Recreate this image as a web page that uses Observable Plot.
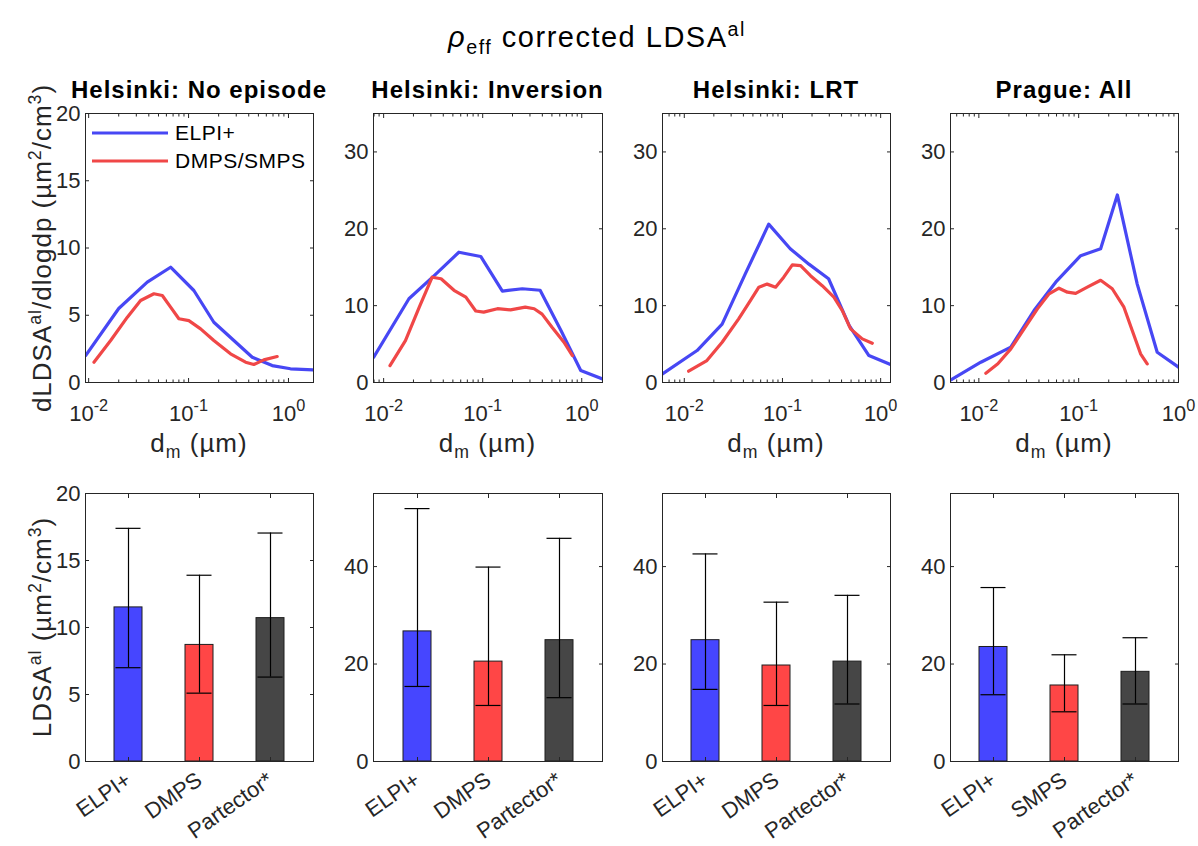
<!DOCTYPE html>
<html><head><meta charset="utf-8">
<script src="https://cdn.jsdelivr.net/npm/d3@7"></script>
<script src="https://cdn.jsdelivr.net/npm/@observablehq/plot@0.6"></script>
<style>
html,body{margin:0;padding:0;background:#fff;}
#wrap{position:relative;width:1198px;height:846px;overflow:hidden;background:#fff;font-family:"Liberation Sans",Arial,Helvetica,sans-serif;color:#000;}
.abs{position:absolute;white-space:nowrap;line-height:1;}
sup,sub{font-size:0.68em;line-height:0;position:relative;vertical-align:baseline;}
sup{top:-0.55em;} sub{top:0.35em;}
.ptitle{font-weight:bold;font-size:24px;letter-spacing:1px;transform:translateX(-50%);}
.xlab{font-size:26px;letter-spacing:1px;transform:translateX(-50%);color:#262626;}
.ylab{font-size:26px;letter-spacing:1px;transform:translate(-50%,-50%) rotate(-90deg);color:#262626;}
.main{font-size:29px;letter-spacing:1.5px;transform:translateX(-50%);}
.plot{overflow:visible;max-width:none !important;}
</style></head>
<body><div id="wrap"></div>
<script>
// ---------- data ----------
const panelTitles = ["Helsinki: No episode", "Helsinki: Inversion", "Helsinki: LRT", "Prague: All"];
const legendLabels = ["ELPI+", "DMPS/SMPS"];
const xTickVals = [0.01, 0.1, 1];
const xTickLabels = ["10^-2", "10^-1", "10^0"];
const topYTicks = [[0, 5, 10, 15, 20], [0, 10, 20, 30], [0, 10, 20, 30], [0, 10, 20, 30]];
const topYMax = [20, 35, 35, 35];
const xDomains = [[0.0093, 1.78], [0.0079, 1.62], [0.006, 1.26], [0.0052, 1.0]];

// ELPI+ (blue) size distributions: diameter (µm), dLDSA/dlogdp
const elpiX1 = [0.00933, 0.0200, 0.0386, 0.0661, 0.113, 0.179, 0.284, 0.434, 0.687, 1.047, 1.78];
const elpiY1 = [2.0, 5.5, 7.46, 8.57, 6.84, 4.48, 3.12, 1.88, 1.26, 1.02, 0.94];
const elpiX2 = [0.00794, 0.0180, 0.0324, 0.0575, 0.0955, 0.158, 0.251, 0.380, 0.617, 0.977, 1.62];
const elpiY2 = [3.3, 10.9, 13.9, 16.95, 16.4, 11.9, 12.2, 12.0, 6.76, 1.56, 0.47];
const elpiX3 = [0.00600, 0.0135, 0.0243, 0.0417, 0.0724, 0.120, 0.186, 0.295, 0.479, 0.759, 1.259];
const elpiY3 = [1.13, 4.16, 7.6, 14.1, 20.6, 17.4, 15.4, 13.5, 7.4, 3.5, 2.34];
const elpiX4 = [0.00525, 0.01047, 0.0209, 0.0357, 0.0589, 0.1047, 0.166, 0.244, 0.386, 0.612, 1.0];
const elpiY4 = [0.35, 2.64, 4.6, 9.36, 13.05, 16.5, 17.4, 24.4, 12.8, 3.94, 2.0];

// DMPS / SMPS (red)
const mobX1 = [0.0113, 0.0166, 0.0244, 0.0331, 0.0450, 0.0546, 0.0661, 0.080, 0.1007, 0.132, 0.179, 0.263, 0.372, 0.450, 0.566, 0.771];
const mobY1 = [1.51, 3.12, 4.86, 6.1, 6.6, 6.47, 5.6, 4.74, 4.6, 3.99, 3.12, 2.13, 1.51, 1.34, 1.68, 1.93];
const mobX2 = [0.01159, 0.0166, 0.0229, 0.0309, 0.0380, 0.0513, 0.0676, 0.0851, 0.1023, 0.141, 0.191, 0.269, 0.331, 0.398, 0.501, 0.661, 0.805];
const mobY2 = [2.2, 5.46, 9.8, 13.7, 13.5, 12.0, 11.1, 9.3, 9.15, 9.6, 9.45, 9.8, 9.6, 8.9, 7.2, 5.25, 3.5];
const mobX3 = [0.01107, 0.0170, 0.0243, 0.0358, 0.0471, 0.0575, 0.0698, 0.0851, 0.103, 0.126, 0.153, 0.193, 0.254, 0.334, 0.407, 0.494, 0.650, 0.822];
const mobY3 = [1.47, 2.86, 5.24, 8.28, 10.66, 12.4, 12.8, 12.4, 13.7, 15.3, 15.2, 13.9, 12.6, 11.1, 9.36, 6.98, 5.68, 5.11];
const mobX4 = [0.01175, 0.0155, 0.0209, 0.0284, 0.0386, 0.0505, 0.0635, 0.0771, 0.0933, 0.122, 0.166, 0.217, 0.284, 0.344, 0.417, 0.486];
const mobY4 = [1.21, 2.43, 4.37, 6.98, 9.58, 11.53, 12.27, 11.75, 11.6, 12.4, 13.3, 12.2, 9.8, 6.76, 3.73, 2.43];

// bottom: mean LDSA with error bars
const barCats = [["ELPI+", "DMPS", "Partector*"], ["ELPI+", "DMPS", "Partector*"], ["ELPI+", "DMPS", "Partector*"], ["ELPI+", "SMPS", "Partector*"]];
const barMean = [[11.5, 8.7, 10.7], [26.7, 20.5, 24.9], [24.9, 19.7, 20.5], [23.5, 15.6, 18.4]];
const barLo = [[7.0, 5.1, 6.3], [15.4, 11.5, 13.1], [14.8, 11.5, 11.8], [13.7, 10.2, 11.8]];
const barHi = [[17.4, 13.9, 17.05], [51.9, 39.9, 45.8], [42.6, 32.7, 34.1], [35.7, 21.9, 25.4]];
const bottomYTicks = [[0, 5, 10, 15, 20], [0, 20, 40], [0, 20, 40], [0, 20, 40]];
const bottomYMax = [20, 55, 55, 55];

// ---------- style / layout ----------
const blueLine = "#4747f4", redLine = "#f04747";
const barFill = ["#4646ff", "#ff4646", "#464646"];
const axisColor = "#262626";
const font = '"Liberation Sans", Arial, Helvetica, sans-serif';
const frameL = [85, 373, 662, 950], frameR = [313, 602, 890, 1178];
const topT = 113, topB = 382, botT = 493, botB = 761;

const elpiX = [elpiX1, elpiX2, elpiX3, elpiX4], elpiY = [elpiY1, elpiY2, elpiY3, elpiY4];
const mobX = [mobX1, mobX2, mobX3, mobX4], mobY = [mobY1, mobY2, mobY3, mobY4];

const wrap = document.getElementById("wrap");
function place(node, left, top) {
  const d = document.createElement("div");
  d.className = "abs"; d.style.left = left + "px"; d.style.top = top + "px";
  d.appendChild(node); wrap.appendChild(d);
}
function html(cls, left, top, inner) {
  const d = document.createElement("div");
  d.className = "abs " + cls; d.style.left = left + "px"; d.style.top = top + "px";
  d.innerHTML = inner; wrap.appendChild(d);
}
function supFix(svg) {
  const NS = "http://www.w3.org/2000/svg";
  svg.querySelectorAll("text").forEach(t => {
    const m = /^10\^(.+)$/.exec(t.textContent);
    if (!m) return;
    t.textContent = "";
    const a = document.createElementNS(NS, "tspan"); a.textContent = "10";
    const b = document.createElementNS(NS, "tspan");
    b.setAttribute("font-size", "0.74em"); b.setAttribute("dy", "-0.62em"); b.textContent = m[1];
    t.appendChild(a); t.appendChild(b);
  });
}
const baseStyle = {fontFamily: font, fontSize: "22px", color: axisColor, overflow: "visible", background: "transparent", maxWidth: "none"};

// ---------- top panels ----------
for (let i = 0; i < 4; i++) {
  const L = frameL[i], R = frameR[i];
  const mL = 45, mR = 20, mT = 10, mB = 55;
  const dom = xDomains[i];
  const major = xTickVals.filter(v => v >= dom[0] && v <= dom[1] * 1.0001);
  const minor = [];
  for (let e = -3; e <= 0; e++) for (let k = 2; k < 10; k++) {
    const v = k * Math.pow(10, e);
    if (v >= dom[0] && v <= dom[1]) minor.push(v);
  }
  const blue = elpiX[i].map((x, j) => ({x, y: elpiY[i][j]}));
  const red = mobX[i].map((x, j) => ({x, y: mobY[i][j]}));
  const yt = topYTicks[i];
  const svg = Plot.plot({
    width: R - L + mL + mR, height: (topB - topT) + mT + mB,
    marginLeft: mL, marginRight: mR, marginTop: mT, marginBottom: mB,
    style: baseStyle,
    x: {type: "log", domain: dom},
    y: {domain: [0, topYMax[i]]},
    marks: [
      Plot.line(blue, {x: "x", y: "y", stroke: blueLine, strokeWidth: 3.2, clip: true}),
      Plot.line(red, {x: "x", y: "y", stroke: redLine, strokeWidth: 3.2, clip: true}),
      Plot.axisY({anchor: "left", ticks: yt, tickSize: 0, tickPadding: 5, label: null}),
      Plot.axisY({anchor: "left", ticks: yt, tickSize: -4, fill: "none", label: null}),
      Plot.axisY({anchor: "right", ticks: yt, tickSize: -4, fill: "none", label: null}),
      Plot.axisX({anchor: "bottom", ticks: major, tickSize: 0, tickPadding: 23, label: null,
        tickFormat: d => xTickLabels[xTickVals.findIndex(v => Math.abs(v - d) < 1e-9)]}),
      Plot.axisX({anchor: "bottom", ticks: major, tickSize: -4, fill: "none", label: null}),
      Plot.axisX({anchor: "bottom", ticks: minor, tickSize: -2.5, fill: "none", label: null}),
      Plot.axisX({anchor: "top", ticks: major, tickSize: -4, fill: "none", label: null}),
      Plot.axisX({anchor: "top", ticks: minor, tickSize: -2.5, fill: "none", label: null}),
      Plot.frame({stroke: axisColor, strokeWidth: 1})
    ]
  });
  supFix(svg);
  place(svg, L - mL, topT - mT);
  html("ptitle", (L + R) / 2, 78, panelTitles[i]);
  html("xlab", (L + R) / 2, 430, "d<sub>m</sub> (µm)");
}

// ---------- bottom panels ----------
for (let i = 0; i < 4; i++) {
  const L = frameL[i], R = frameR[i];
  const mL = 45, mR = 20, mT = 10, mB = 85;
  const cats = barCats[i];
  const rows = cats.map((c, j) => ({cat: c, v: barMean[i][j], lo: barLo[i][j], hi: barHi[i][j]}));
  const yt = bottomYTicks[i];
  const svg = Plot.plot({
    width: R - L + mL + mR, height: (botB - botT) + mT + mB,
    marginLeft: mL, marginRight: mR, marginTop: mT, marginBottom: mB,
    style: baseStyle,
    x: {type: "band", domain: cats, paddingInner: 0.61, paddingOuter: 0.4},
    y: {domain: [0, bottomYMax[i]]},
    marks: [
      ...rows.map((r, j) => Plot.barY([r], {x: "cat", y: "v", fill: barFill[j], stroke: "#1e1e1e", strokeWidth: 1})),
      Plot.ruleX(rows, {x: "cat", y1: "lo", y2: "hi", stroke: "#000", strokeWidth: 1.2}),
      Plot.tickY(rows, {x: "cat", y: "lo", stroke: "#000", strokeWidth: 1.2, insetLeft: 1.5, insetRight: 1.5}),
      Plot.tickY(rows, {x: "cat", y: "hi", stroke: "#000", strokeWidth: 1.2, insetLeft: 1.5, insetRight: 1.5}),
      Plot.axisY({anchor: "left", ticks: yt, tickSize: 0, tickPadding: 5, label: null}),
      Plot.axisY({anchor: "left", ticks: yt, tickSize: -4, fill: "none", label: null}),
      Plot.axisY({anchor: "right", ticks: yt, tickSize: -4, fill: "none", label: null}),
      Plot.axisX({anchor: "bottom", tickSize: 0, tickPadding: 16, tickRotate: -35, label: null}),
      Plot.axisX({anchor: "bottom", tickSize: -4, fill: "none", label: null}),
      Plot.axisX({anchor: "top", tickSize: -4, fill: "none", label: null}),
      Plot.frame({stroke: axisColor, strokeWidth: 1})
    ]
  });
  place(svg, L - mL, botT - mT);
}

// ---------- titles, axis labels, legend ----------
html("main", 597, 23, "<i>ρ</i><sub>eff</sub> corrected LDSA<sup>al</sup>");
html("ylab", 42, 248, "dLDSA<sup>al</sup>/dlogdp (µm<sup>2</sup>/cm<sup>3</sup>)");
html("ylab", 42, 627, "LDSA<sup>al</sup> (µm<sup>2</sup>/cm<sup>3</sup>)");

(function legend() {
  const NS = "http://www.w3.org/2000/svg";
  const s = document.createElementNS(NS, "svg");
  s.setAttribute("width", 230); s.setAttribute("height", 60);
  s.style.overflow = "visible";
  const cols = [blueLine, redLine];
  legendLabels.forEach((lab, j) => {
    const y = 13 + j * 28;
    const ln = document.createElementNS(NS, "line");
    ln.setAttribute("x1", 0); ln.setAttribute("x2", 76); ln.setAttribute("y1", y); ln.setAttribute("y2", y);
    ln.setAttribute("stroke", cols[j]); ln.setAttribute("stroke-width", 3.2);
    s.appendChild(ln);
    const t = document.createElementNS(NS, "text");
    t.setAttribute("x", 83); t.setAttribute("y", y); t.setAttribute("dy", "0.35em");
    t.setAttribute("font-family", font); t.setAttribute("font-size", 21); t.setAttribute("letter-spacing", "0.5");
    t.setAttribute("fill", "#000"); t.textContent = lab;
    s.appendChild(t);
  });
  place(s, 92, 120);
})();
</script></body></html>
